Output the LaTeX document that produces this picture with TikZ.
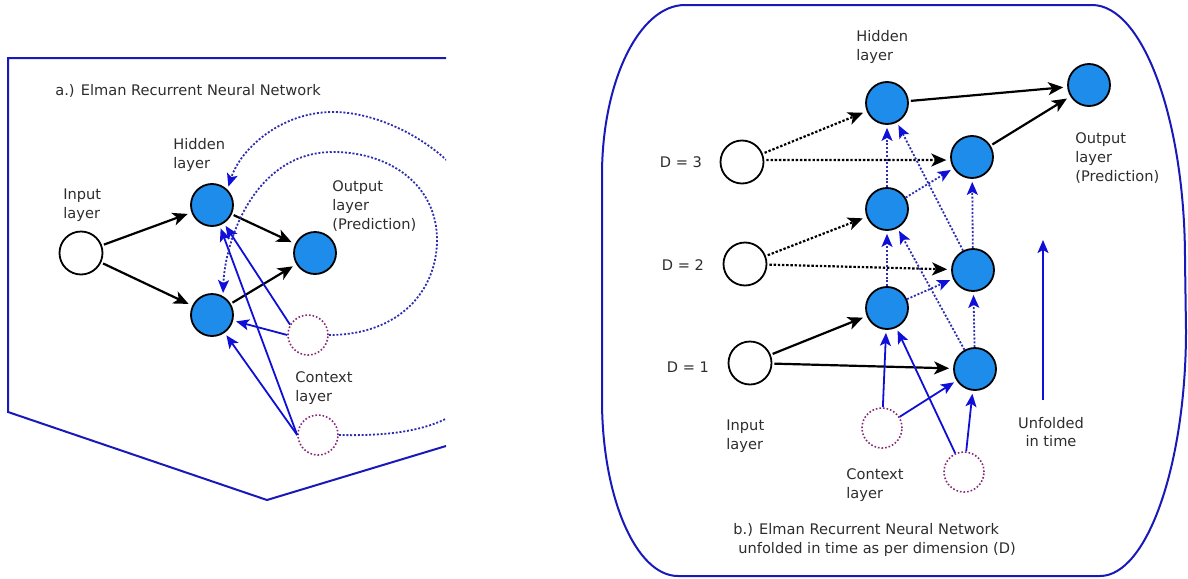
\documentclass[tikz,border=0pt]{standalone}
\usepackage{fontspec}
\setmainfont{DejaVu Sans}
\usetikzlibrary{arrows.meta}
\definecolor{nodeblue}{RGB}{30,140,235}
\definecolor{lineblue}{RGB}{15,15,215}
\definecolor{dotblue}{RGB}{45,45,175}
\definecolor{frameblue}{RGB}{25,25,185}
\definecolor{ctxpurple}{RGB}{135,40,120}
\definecolor{txtgray}{RGB}{45,45,45}
\tikzset{hid/.style={circle,draw=black,fill=nodeblue,line width=0.9pt,minimum size=21pt,inner sep=0pt}}
\tikzset{inp/.style={circle,draw=black,fill=white,line width=0.9pt,minimum size=21.5pt,inner sep=0pt}}
\tikzset{ctx/.style={circle,draw=ctxpurple,dash pattern=on 0.8pt off 1pt,line width=0.8pt,minimum size=20pt,inner sep=0pt}}
\tikzset{lbl/.style={text=txtgray,font=\fontsize{7.3}{9.3}\selectfont,align=left,anchor=west,inner sep=0pt}}
\tikzset{frame/.style={draw=frameblue,line width=1pt}}
\tikzset{blk/.style={draw=black,line width=1.1pt,-{Stealth[length=7.5pt,width=6.5pt,inset=2pt]},shorten >=2pt,shorten <=1pt}}
\tikzset{blkdot/.style={blk,dash pattern=on 1.2pt off 0.9pt}}
\tikzset{blu/.style={draw=lineblue,line width=0.9pt,-{Stealth[length=6.5pt,width=5.5pt,inset=1.5pt,color=lineblue]},shorten >=1.5pt}}
\tikzset{bludot/.style={blu,draw=dotblue,dash pattern=on 1pt off 0.9pt}}

\begin{document}
\begin{tikzpicture}[x=0.5pt,y=-0.5pt]
      \useasboundingbox (0,0) rectangle (1188,578);
      % panel a
      \draw [frame] (446,58) -- (8,58) -- (8,412) -- (267,500) -- (446,446);
      \node [lbl] (tita) at (55,91) {a.) Elman Recurrent Neural Network};
      \node [inp] (ina) at (81,253) {};
      \node [hid] (ha1) at (212,205) {};
      \node [hid] (ha2) at (212,315) {};
      \node [hid] (oa) at (315,253) {};
      \node [ctx] (ca1) at (308,335) {};
      \node [ctx] (ca2) at (318,435) {};
      \node [lbl] (lhida) at (173,155) {Hidden\\layer};
      \node [lbl] (lina) at (63,205) {Input\\layer};
      \node [lbl] (louta) at (332,206) {Output\\layer\\(Prediction)};
      \node [lbl] (lctxa) at (295,388) {Context\\layer};
      \draw [blk] (ina) -- (ha1);
      \draw [blk] (ina) -- (ha2);
      \draw [blk] (ha1) -- (oa);
      \draw [blk] (ha2) -- (oa);
      \draw [blu] (ca1.150) -- (ha1);
      \draw [blu] (ca1.180) -- (ha2);
      \draw [blu] (ca2.west) -- (ha1);
      \draw [blu] (ca2.west) -- (ha2);
      \begin{scope}
        \clip (0,0) rectangle (446,578);
        \draw [bludot] (ca2.east) .. controls (430,437) and (510,420) .. (505,290)
              .. controls (505,175) and (400,112) .. (333,112)
              .. controls (280,112) and (240,150) .. (ha1.north east);
      \end{scope}
      \draw [bludot] (ca1.east) .. controls (400,335) and (437,290) .. (437,240)
            .. controls (437,185) and (390,152) .. (333,152)
            .. controls (255,152) and (225,240) .. (ha2.60);
      % panel b
      \draw [frame] (685,5) -- (1092,5) .. controls (1143,5) and (1185,120) .. (1185,260)
            -- (1186,330) .. controls (1186,465) and (1147,576) .. (1100,576)
            -- (678,576) .. controls (636,576) and (602,497) .. (602,400)
            -- (602,175) .. controls (602,82) and (639,5) .. (685,5) -- cycle;
      \node [inp] (inb3) at (742,162) {};
      \node [inp] (inb2) at (745,264) {};
      \node [inp] (inb1) at (750,363) {};
      \node [hid] (hb3) at (887,103) {};
      \node [hid] (hb2) at (887,209) {};
      \node [hid] (hb1) at (887,308) {};
      \node [hid] (rb3) at (972,157) {};
      \node [hid] (rb2) at (973,270) {};
      \node [hid] (rb1) at (975,369) {};
      \node [hid] (ob) at (1089,85) {};
      \node [ctx] (cb1) at (882,428) {};
      \node [ctx] (cb2) at (964,472) {};
      \node [lbl,anchor=center] (ld3) at (681,162) {D = 3};
      \node [lbl,anchor=center] (ld2) at (683,265) {D = 2};
      \node [lbl,anchor=center] (ld1) at (688,367) {D = 1};
      \node [lbl] (lhidb) at (856,47) {Hidden\\layer};
      \node [lbl] (loutb) at (1075,158) {Output\\layer\\(Prediction)};
      \node [lbl] (linb) at (726,436) {Input\\layer};
      \node [lbl] (lctxb) at (846,485) {Context\\layer};
      \node [lbl,align=center,anchor=center] (lunf) at (1051,432) {Unfolded\\in time};
      \node [lbl] (capb) at (733,540) {b.) Elman Recurrent Neural Network\\\hspace*{2.5pt}unfolded in time as per dimension (D)};
      \draw [blk] (inb1) -- (hb1);
      \draw [blk] (inb1) -- (rb1);
      \draw [blk] (hb3) -- (ob);
      \draw [blk] (rb3) -- (ob);
      \draw [blkdot] (inb3) -- (hb3);
      \draw [blkdot] (inb3.5) -- (rb3.188);
      \draw [blkdot] (inb2) -- (hb2);
      \draw [blkdot] (inb2) -- (rb2);
      \draw [bludot] (hb1) -- (hb2);
      \draw [bludot] (hb2) -- (hb3);
      \draw [bludot] (rb1) -- (rb2);
      \draw [bludot] (rb2) -- (rb3);
      \draw [bludot] (hb1) -- (rb2);
      \draw [bludot] (hb2) -- (rb3);
      \draw [bludot] (rb2) -- (hb3);
      \draw [bludot] (rb1) -- (hb2);
      \draw [blu] (cb1) -- (hb1);
      \draw [blu] (cb1) -- (rb1);
      \draw [blu] (cb2) -- (hb1);
      \draw [blu] (cb2) -- (rb1);
      \coordinate (ubot) at (1043,400);
      \coordinate (utop) at (1043,240);
      \draw [blu,shorten >=0pt] (ubot) -- (utop);
\end{tikzpicture}
\end{document}
